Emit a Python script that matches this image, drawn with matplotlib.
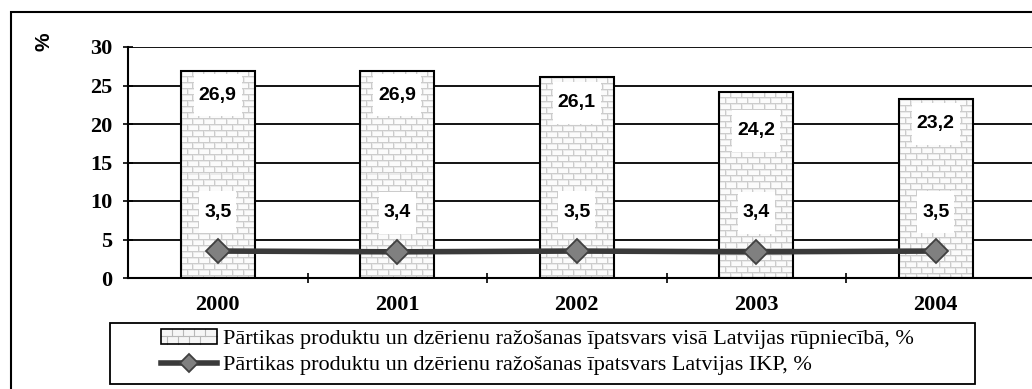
import numpy as np
import matplotlib
matplotlib.use("Agg")
import matplotlib.pyplot as plt
from matplotlib.patches import Rectangle, Patch
from matplotlib.lines import Line2D
from matplotlib.transforms import IdentityTransform
from matplotlib.font_manager import FontProperties

years = ['2000', '2001', '2002', '2003', '2004']
industry_share = [26.9, 26.9, 26.1, 24.2, 23.2]
gdp_share = [3.5, 3.4, 3.5, 3.4, 3.5]
industry_label = 'Pārtikas produktu un dzērienu ražošanas īpatsvars visā Latvijas rūpniecībā, %'
gdp_label = 'Pārtikas produktu un dzērienu ražošanas īpatsvars Latvijas IKP, %'

W, H = 1032, 389
SERIF = 'Liberation Serif'
SANS = 'Liberation Sans'

# vertical offsets (points) of the bar value labels below the bar tops
bar_label_dy = [-17.5, -17.5, -18.5, -28, -17.5]


def brick_texture(h, w, bh=6, bw=11):
    # white bricks with grey mortar, every other row shifted half a brick
    img = np.full((h, w, 3), 0.985)
    rows = np.arange(h)[:, None]
    cols = np.arange(w)[None, :]
    course = rows // bh
    off = (bw // 2) * (course % 2)
    mortar = (rows % bh == 0) | ((cols + off) % bw == 0)
    shade = (rows % bh == 1) | ((cols + off) % bw == 1)
    img[shade & ~mortar] = 0.92
    img[mortar] = 0.8
    return img


class BrickHandler:
    def legend_artist(self, legend, orig_handle, fontsize, handlebox):
        x0, y0 = -handlebox.xdescent, -handlebox.ydescent
        w, h = handlebox.width, handlebox.height
        handlebox.add_artist(Rectangle((x0, y0), w, h, fc='#f6f6f6', ec='none'))
        handlebox.add_artist(Line2D([x0, x0 + w], [y0 + h / 2] * 2, color='#b8b8b8', lw=0.8))
        n = 5
        for i in range(1, n):
            xs = x0 + w * i / n
            handlebox.add_artist(Line2D([xs, xs], [y0 + h / 2, y0 + h], color='#b8b8b8', lw=0.8))
            xs2 = x0 + w * (i - 0.5) / n
            handlebox.add_artist(Line2D([xs2, xs2], [y0, y0 + h / 2], color='#b8b8b8', lw=0.8))
        frame = Rectangle((x0, y0), w, h, fc='none', ec='black', lw=1.2)
        handlebox.add_artist(frame)
        return frame


fig = plt.figure(figsize=(W / 100, H / 100), dpi=100)
left, right = 128, 1032
bottom, top = 278, 47
ax = fig.add_axes([left / W, 1 - bottom / H, (right - left) / W, (bottom - top) / H])

x = np.arange(len(years))
bar_w = 0.415
ax.set_xlim(-0.5, -0.5 + (right - left) / 179.5)
ax.set_ylim(0, 30)

# grid
for gy in range(5, 31, 5):
    ax.axhline(gy, color='black', lw=1.3, zorder=1)

bars = ax.bar(x, industry_share, width=bar_w, facecolor='none', edgecolor='black',
              lw=1.5, zorder=3)
px_per_unit = (bottom - top) / 30
for b, v in zip(bars, industry_share):
    tex = brick_texture(int(round(v * px_per_unit)), int(round(bar_w * 179.5)))
    ax.imshow(tex, extent=(b.get_x(), b.get_x() + bar_w, 0, v), aspect='auto',
              interpolation='nearest', zorder=2)

line, = ax.plot(x, gdp_share, color='#3a3a3a', lw=4, marker='D', markersize=12,
                markerfacecolor='#808080', markeredgecolor='#404040', markeredgewidth=1.3,
                zorder=6)

labels = []
for xi, v, dy in zip(x, industry_share, bar_label_dy):
    t = ax.annotate(f'{v:.1f}'.replace('.', ','), (xi, v), xytext=(0, dy),
                    textcoords='offset points', ha='center', va='center',
                    fontsize=14, fontweight='bold', family=SANS, zorder=7)
    labels.append(t)
for xi, v in zip(x, gdp_share):
    t = ax.annotate(f'{v:.1f}'.replace('.', ','), (xi, v), xytext=(0, 28),
                    textcoords='offset points', ha='center', va='center',
                    fontsize=14, fontweight='bold', family=SANS, zorder=7)
    labels.append(t)

for s in ['top', 'right']:
    ax.spines[s].set_visible(False)
for s in ['left', 'bottom']:
    ax.spines[s].set_linewidth(1.5)
    ax.spines[s].set_zorder(8)

ax.set_yticks(range(0, 31, 5))
ax.tick_params(axis='y', direction='inout', length=7, width=1.2, pad=8)
for lab in ax.get_yticklabels():
    lab.set_fontfamily(SERIF)
    lab.set_fontweight('bold')
    lab.set_fontsize(16)

ax.set_xticks(x)
ax.set_xticklabels(years, fontfamily=SERIF, fontweight='bold', fontsize=16)
ax.tick_params(axis='x', which='major', length=0, pad=12)
ax.set_xticks(x[:-1] + 0.5, minor=True)
ax.tick_params(axis='x', which='minor', direction='inout', length=7, width=1.2)

fig.text(44 / W, 1 - 42 / H, '%', rotation=90, ha='center', va='center',
         fontsize=15, fontweight='bold', family=SANS)

# outer chart frame
fig.add_artist(Rectangle((11 / W, -0.1), 1.0, 1.1 - 12 / H, transform=fig.transFigure,
                         fill=False, ec='black', lw=1.5, clip_on=False))

# legend with its own frame
fig.add_artist(Rectangle((110 / W, 1 - 384 / H), (975 - 110) / W, (384 - 323) / H,
                         transform=fig.transFigure, fill=False, ec='black', lw=1.3))
leg = fig.legend([Patch(), line], [industry_label, gdp_label],
                 handler_map={Patch: BrickHandler()}, loc='center left',
                 bbox_to_anchor=(161 / W, 1 - 352 / H), frameon=False,
                 prop=FontProperties(family=SERIF, size=16), handlelength=2.5,
                 handletextpad=0.3, labelspacing=0.25, borderpad=0, borderaxespad=0)
leg.legend_handles[1].set_markersize(9)

# white boxes behind the value labels
fig.canvas.draw()
renderer = fig.canvas.get_renderer()
for t in labels:
    bb = t.get_window_extent(renderer)
    cy = (bb.y0 + bb.y1) / 2
    ax.add_patch(Rectangle((bb.x0 - 5, cy - 21), bb.width + 10, 42, transform=IdentityTransform(),
                           fc='white', ec='none', zorder=5, clip_on=False))

fig.savefig('out.png', dpi=100)
